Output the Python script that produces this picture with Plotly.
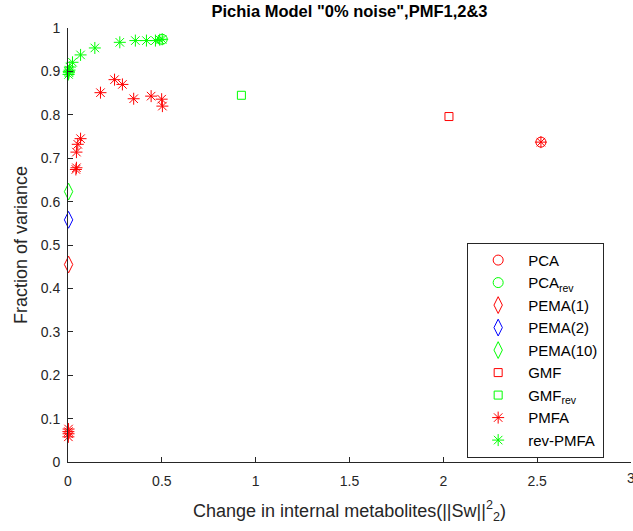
import plotly.graph_objects as go

# ---- data ----
pca_x = [2.52]
pca_y = [0.737]
pcarev_x = [0.502]
pcarev_y = [0.974]
pema1_x = [0.003]
pema1_y = [0.455]
pema2_x = [0.003]
pema2_y = [0.558]
pema10_x = [0.003]
pema10_y = [0.623]
gmf_x = [2.03]
gmf_y = [0.796]
gmfrev_x = [0.924]
gmfrev_y = [0.845]
pmfa_x = [0.002, 0.003, 0.002, 0.003, 0.042, 0.045, 0.045, 0.052, 0.067,
          0.173, 0.248, 0.290, 0.350, 0.443, 0.499, 0.503, 2.52]
pmfa_y = [0.058, 0.065, 0.070, 0.076, 0.674, 0.678, 0.714, 0.732, 0.745,
          0.851, 0.881, 0.870, 0.837, 0.843, 0.836, 0.820, 0.737]
rpmfa_x = [0.003, 0.005, 0.004, 0.008, 0.010, 0.024, 0.067, 0.143, 0.276,
           0.359, 0.418, 0.466, 0.489, 0.502]
rpmfa_y = [0.893, 0.897, 0.900, 0.903, 0.910, 0.921, 0.938, 0.954, 0.967,
           0.971, 0.971, 0.971, 0.973, 0.974]
x_ticks = [0, 0.5, 1, 1.5, 2, 2.5, 3]
x_ticklabels = ["0", "0.5", "1", "1.5", "2", "2.5", "3"]

RED, GREEN, BLUE = "#FF0000", "#00FF00", "#0000FF"
FONT = "Liberation Sans, Arial, sans-serif"
DARK = "#262626"

fig = go.Figure()

def add(x, y, name, symbol, color, size, width=1):
    fig.add_trace(go.Scatter(
        x=x, y=y, mode="markers", name=name, cliponaxis=False,
        marker=dict(symbol=symbol, size=size, color=color,
                    line=dict(color=color, width=width)),
    ))

add(pca_x, pca_y, "PCA", "circle-open", RED, 10)
add(pcarev_x, pcarev_y, "PCA<sub>rev</sub>", "circle-open", GREEN, 10)
add(pema1_x, pema1_y, "PEMA(1)", "diamond-tall-open", RED, 12)
add(pema2_x, pema2_y, "PEMA(2)", "diamond-tall-open", BLUE, 12)
add(pema10_x, pema10_y, "PEMA(10)", "diamond-tall-open", GREEN, 12)
add(gmf_x, gmf_y, "GMF", "square-open", RED, 8)
add(gmfrev_x, gmfrev_y, "GMF<sub>rev</sub>", "square-open", GREEN, 8)
add(pmfa_x, pmfa_y, "PMFA", "asterisk-open", RED, 10)
add(rpmfa_x, rpmfa_y, "rev-PMFA", "asterisk-open", GREEN, 10)

axis_common = dict(
    showline=True, linecolor=DARK, linewidth=1, mirror=False,
    showgrid=False, zeroline=False,
    ticks="inside", ticklen=5, tickcolor=DARK, tickwidth=1,
    tickfont=dict(family=FONT, size=14, color=DARK),
)

fig.update_layout(
    width=633, height=531,
    margin=dict(l=67.5, r=2, t=27.5, b=68.5),
    plot_bgcolor="white", paper_bgcolor="white",
    font=dict(family=FONT, color=DARK),
    title=dict(text='<b>Pichia Model "0% noise",PMF1,2&3</b>',
               font=dict(family=FONT, size=16.5, color="black"),
               x=0.5, xanchor="center", xref="paper", y=0.978, yanchor="middle", yref="container"),
    xaxis=dict(range=[0, 3], tickmode="array", tickvals=x_ticks, ticktext=x_ticklabels,
               ticklabelstandoff=6,
               title=dict(text="Change in internal metabolites(||Sw||<sup>2</sup><sub>2</sub>)",
                          font=dict(family=FONT, size=18, color=DARK), standoff=16),
               **axis_common),
    yaxis=dict(range=[0, 1], dtick=0.1, tick0=0, ticklabelstandoff=4,
               title=dict(text="Fraction of variance",
                          font=dict(family=FONT, size=18, color=DARK), standoff=8),
               **axis_common),
    legend=dict(x=0.709, y=0.505, xanchor="left", yanchor="top",
                bordercolor=DARK, borderwidth=1, bgcolor="white",
                font=dict(family=FONT, size=15, color="black"),
                itemwidth=50),
    showlegend=True,
)

# last tick label (plotly hides it because it runs past the page edge)
fig.add_annotation(x=x_ticks[-1], y=0, xref="x", yref="y", text=x_ticklabels[-1],
                   showarrow=False, xanchor="center", yanchor="top", yshift=-6,
                   font=dict(family=FONT, size=14, color=DARK))

fig.write_html("out.html")
